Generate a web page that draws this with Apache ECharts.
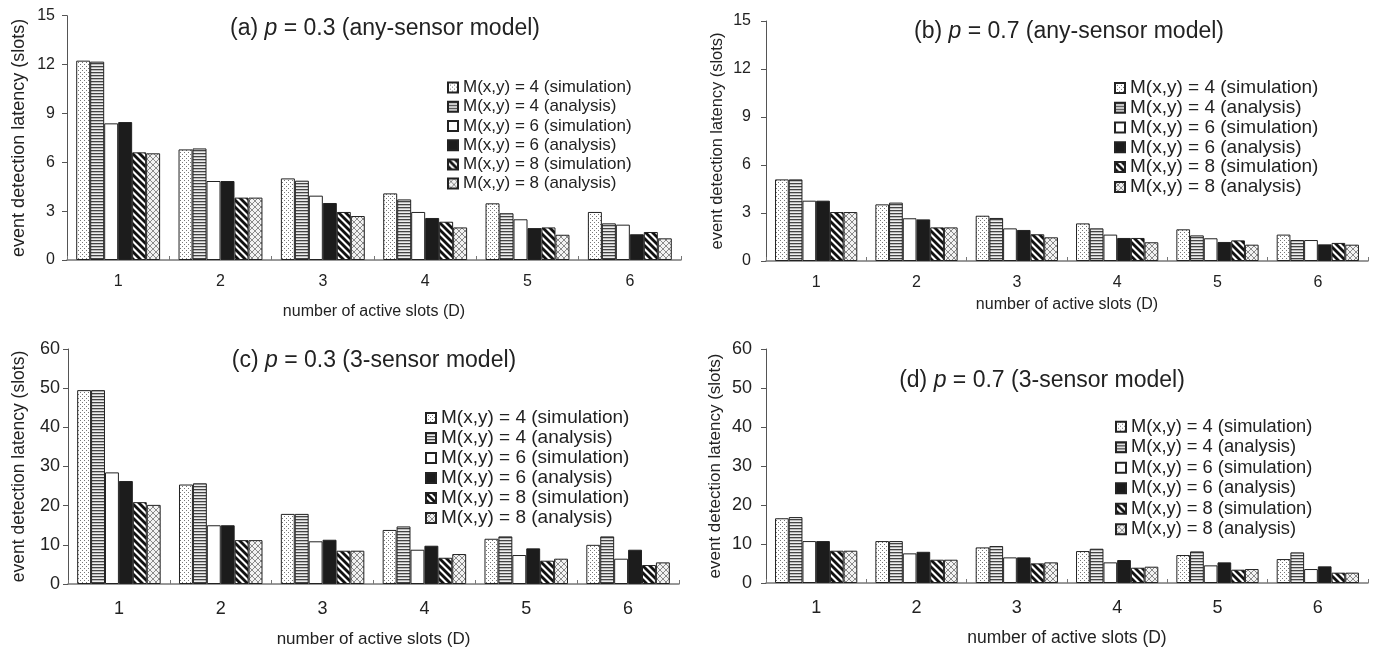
<!DOCTYPE html>
<html>
<head>
<meta charset="utf-8">
<script src="https://cdn.jsdelivr.net/npm/echarts@6/dist/echarts.min.js"></script>
<style>
html,body{margin:0;padding:0;background:#fff;}
#c{width:1385px;height:649px;}
</style>
</head>
<body>
<div id="c"></div>
<script>
// ---- data ----
const categories = ['1', '2', '3', '4', '5', '6'];
const seriesNames = [
  'M(x,y) = 4 (simulation)', 'M(x,y) = 4 (analysis)',
  'M(x,y) = 6 (simulation)', 'M(x,y) = 6 (analysis)',
  'M(x,y) = 8 (simulation)', 'M(x,y) = 8 (analysis)'
];
const panelTitles = [
  '(a) {i|p} = 0.3 (any-sensor model)',
  '(b) {i|p} = 0.7 (any-sensor model)',
  '(c) {i|p} = 0.3 (3-sensor model)',
  '(d) {i|p} = 0.7 (3-sensor model)'
];
const yName = 'event detection latency (slots)';
const xName = 'number of active slots (D)';

// (a) p = 0.3, any-sensor
const a_sim4 = [12.24, 6.79, 5.01, 4.09, 3.48, 2.95];
const a_ana4 = [12.18, 6.85, 4.87, 3.72, 2.87, 2.25];
const a_sim6 = [8.39, 4.85, 3.95, 2.95, 2.50, 2.17];
const a_ana6 = [8.47, 4.85, 3.50, 2.58, 1.96, 1.58];
const a_sim8 = [6.61, 3.83, 2.95, 2.35, 2.00, 1.72];
const a_ana8 = [6.55, 3.83, 2.70, 2.00, 1.55, 1.33];
// (b) p = 0.7, any-sensor
const b_sim4 = [5.10, 3.54, 2.83, 2.35, 1.98, 1.65];
const b_ana4 = [5.10, 3.65, 2.69, 2.04, 1.60, 1.31];
const b_sim6 = [3.77, 2.67, 2.04, 1.65, 1.42, 1.31];
const b_ana6 = [3.77, 2.60, 1.94, 1.44, 1.19, 1.04];
const b_sim8 = [3.06, 2.10, 1.67, 1.44, 1.29, 1.13];
const b_ana8 = [3.06, 2.10, 1.48, 1.17, 1.02, 1.02];
// (c) p = 0.3, 3-sensor
const c_sim4 = [49.5, 25.4, 17.9, 13.8, 11.55, 10.0];
const c_ana4 = [49.5, 25.7, 17.9, 14.7, 12.15, 12.15];
const c_sim6 = [28.5, 15.0, 10.9, 8.75, 7.4, 6.46];
const c_ana6 = [26.3, 15.0, 11.3, 9.77, 9.1, 8.75];
const c_sim8 = [20.9, 11.2, 8.5, 6.7, 5.95, 4.84];
const c_ana8 = [20.2, 11.2, 8.5, 7.65, 6.46, 5.52];
// (d) p = 0.7, 3-sensor
const d_sim4 = [16.6, 10.75, 9.13, 8.19, 7.17, 6.14];
const d_ana4 = [16.9, 10.75, 9.47, 8.79, 8.1, 7.85];
const d_sim6 = [10.75, 7.6, 6.57, 5.29, 4.52, 3.58];
const d_ana6 = [10.75, 8.0, 6.57, 5.89, 5.29, 4.27];
const d_sim8 = [8.28, 5.97, 5.03, 3.92, 3.41, 2.65];
const d_ana8 = [8.28, 5.97, 5.29, 4.18, 3.58, 2.65];

const yMaxes = [15, 15, 60, 60];
const yIntervals = [3, 3, 10, 10];

const panelData = [
  [a_sim4, a_ana4, a_sim6, a_ana6, a_sim8, a_ana8],
  [b_sim4, b_ana4, b_sim6, b_ana6, b_sim8, b_ana8],
  [c_sim4, c_ana4, c_sim6, c_ana6, c_sim8, c_ana8],
  [d_sim4, d_ana4, d_sim6, d_ana6, d_sim8, d_ana8]
];

// ---- layout / style ----
const FONT = '"Liberation Sans", Arial, Helvetica, sans-serif';
const TXT = '#222';
const grids = [
  {left: 67, top: 15.7, width: 614, height: 244.3},
  {left: 766, top: 21, width: 602, height: 240},
  {left: 68, top: 349, width: 611, height: 235},
  {left: 766, top: 349, width: 602, height: 234}
];
const tickFont = [16, 16, 18, 18];
const yLabelMargin = [12, 15, 8, 14];
const xLabelMargin = [14, 14, 16, 16];
const xNameGap = [44, 36, 47, 46];
const xNameFont = [16, 16, 17, 17.5];
const yNameGap = [39, 41, 40, 42];
const yNameFont = [18, 16.4, 17.5, 17];
const legendPos = [
  {left: 447, top: 78, font: 17, lh: 19.2},
  {left: 1114, top: 78, font: 19, lh: 19.8},
  {left: 425, top: 408, font: 19, lh: 20},
  {left: 1115, top: 416.5, font: 18.3, lh: 20.5}
];
const titlePos = [
  {x: 385, y: 29, fs: 23},
  {x: 1069, y: 32, fs: 23},
  {x: 374, y: 361, fs: 23},
  {x: 1042, y: 381, fs: 23}
];

function makePattern(w, h, draw) {
  const c = document.createElement('canvas');
  c.width = w; c.height = h;
  const g = c.getContext('2d');
  draw(g, w, h);
  return {image: c, repeat: 'repeat'};
}
const patterns = [
  // dotted
  makePattern(4, 4, (g) => {
    g.fillStyle = '#fff'; g.fillRect(0, 0, 4, 4);
    g.fillStyle = '#777'; g.fillRect(0, 0, 1, 1); g.fillRect(2, 2, 1, 1);
  }),
  // horizontal stripes
  makePattern(4, 3, (g) => {
    g.fillStyle = '#bbb'; g.fillRect(0, 0, 4, 3);
    g.fillStyle = '#444'; g.fillRect(0, 0, 4, 1);
    g.fillStyle = '#eee'; g.fillRect(0, 2, 4, 1);
  }),
  '#ffffff',
  '#1c1c1c',
  // wide diagonal "\"
  makePattern(7, 7, (g, w, h) => {
    g.fillStyle = '#fff'; g.fillRect(0, 0, w, h);
    g.strokeStyle = '#111'; g.lineWidth = 2.8;
    for (let k = -w; k <= w; k += w) {
      g.beginPath(); g.moveTo(k - 1, -1); g.lineTo(k + w + 1, h + 1); g.stroke();
    }
  }),
  // cross-hatch
  makePattern(6, 6, (g, w, h) => {
    g.fillStyle = '#f2f2f2'; g.fillRect(0, 0, w, h);
    g.strokeStyle = '#8a8a8a'; g.lineWidth = 1;
    for (let k = -w; k <= w; k += w) {
      g.beginPath(); g.moveTo(k - 1, -1); g.lineTo(k + w + 1, h + 1); g.stroke();
      g.beginPath(); g.moveTo(k - 1, h + 1); g.lineTo(k + w + 1, -1); g.stroke();
    }
  })
];

const option = {
  animation: false,
  backgroundColor: '#fff',
  textStyle: {fontFamily: FONT, color: TXT},
  grid: grids.map(g => Object.assign({outerBoundsMode: 'none', containLabel: false}, g)),
  xAxis: grids.map((g, i) => ({
    type: 'category',
    gridIndex: i,
    data: categories,
    name: xName,
    nameLocation: 'middle',
    nameGap: xNameGap[i],
    nameTextStyle: {fontSize: xNameFont[i], color: TXT, fontFamily: FONT},
    axisLine: {show: true, lineStyle: {color: '#777', width: 1.5}},
    axisTick: {show: true, inside: true, length: 4, lineStyle: {color: '#777'}},
    axisLabel: {fontSize: tickFont[i], color: TXT, margin: xLabelMargin[i], fontFamily: FONT},
    splitLine: {show: false}
  })),
  yAxis: grids.map((g, i) => ({
    type: 'value',
    gridIndex: i,
    min: 0,
    max: yMaxes[i],
    interval: yIntervals[i],
    name: yName,
    nameLocation: 'middle',
    nameGap: yNameGap[i],
    nameTextStyle: {fontSize: yNameFont[i], color: TXT, fontFamily: FONT},
    axisLine: {show: true, lineStyle: {color: '#555', width: 1}},
    axisTick: {show: true, inside: false, length: 5, lineStyle: {color: '#555'}},
    axisLabel: {fontSize: tickFont[i], color: TXT, margin: yLabelMargin[i], fontFamily: FONT},
    splitLine: {show: false}
  })),
  legend: legendPos.map(l => ({
    orient: 'vertical',
    left: l.left,
    top: l.top,
    padding: 0,
    itemGap: 0,
    itemWidth: 10,
    itemHeight: 10,
    icon: 'rect',
    selectedMode: false,
    data: seriesNames,
    textStyle: {fontSize: l.font, lineHeight: l.lh, color: TXT, fontFamily: FONT}
  })),
  graphic: titlePos.map((t, i) => ({
    type: 'text',
    x: t.x,
    y: t.y,
    silent: true,
    style: {
      text: panelTitles[i],
      fontSize: t.fs,
      fontFamily: FONT,
      fill: TXT,
      align: 'center',
      verticalAlign: 'middle',
      rich: {i: {fontStyle: 'italic', fontSize: t.fs, fontFamily: FONT, fill: TXT}}
    }
  })),
  series: []
};

panelData.forEach((arrs, p) => {
  arrs.forEach((arr, j) => {
    option.series.push({
      type: 'bar',
      name: seriesNames[j],
      xAxisIndex: p,
      yAxisIndex: p,
      data: arr,
      barGap: '0%',
      barCategoryGap: '18%',
      silent: true,
      itemStyle: {color: patterns[j], borderColor: '#222', borderWidth: 1}
    });
  });
});

const chart = echarts.init(document.getElementById('c'), null, {renderer: 'canvas'});
chart.setOption(option);
</script>
</body>
</html>
